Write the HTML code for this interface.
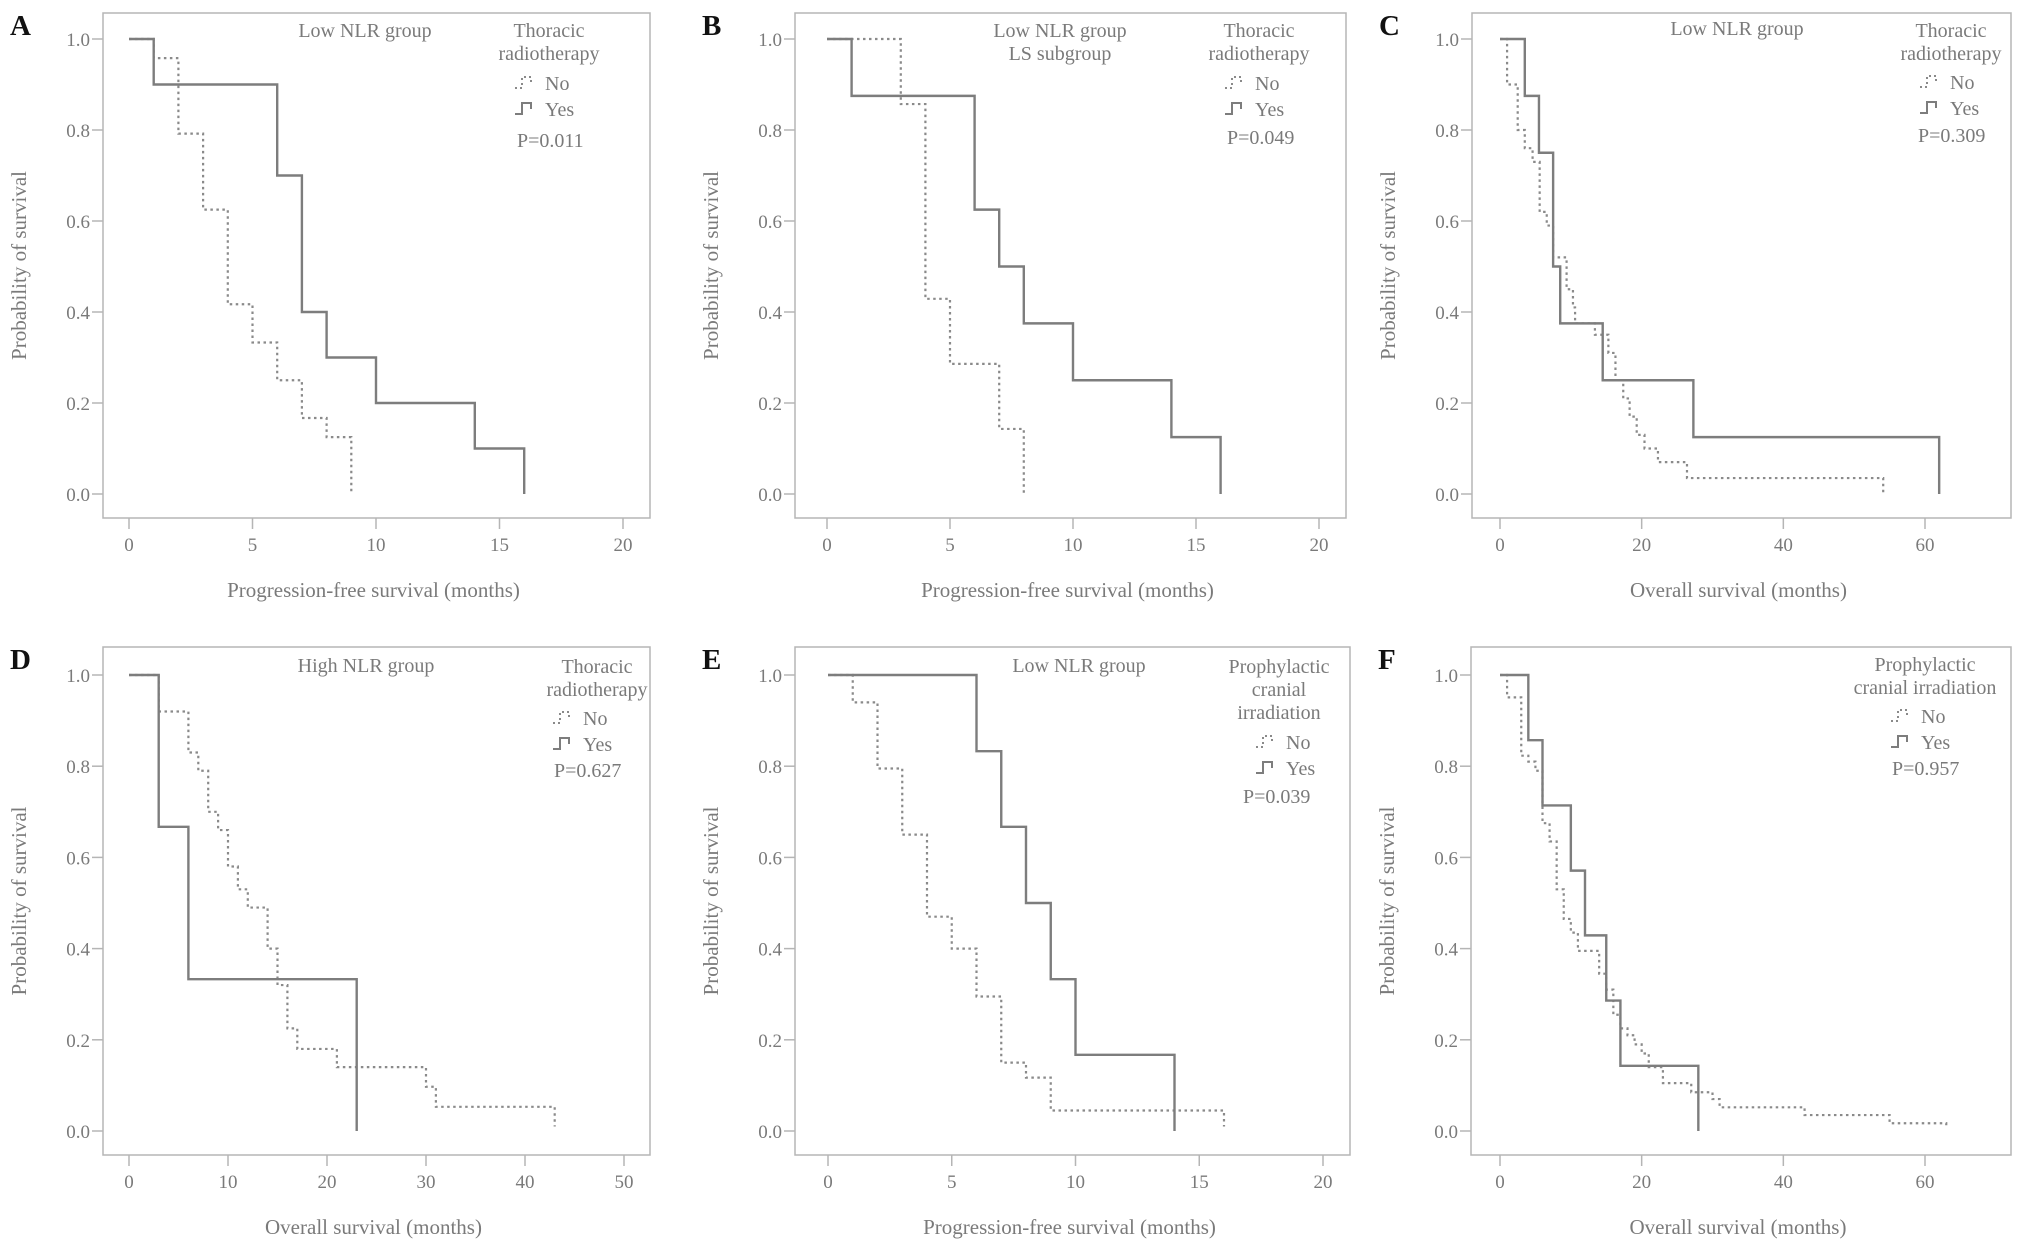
<!DOCTYPE html>
<html><head><meta charset="utf-8"><style>
html,body{margin:0;padding:0;background:#fff;}
svg{display:block;font-family:"Liberation Serif","DejaVu Serif",serif;}
svg text{font-family:"Liberation Serif","DejaVu Serif",serif;}
</style></head><body>
<svg id="fig" width="2031" height="1250" viewBox="0 0 2031 1250" font-family="Liberation Serif, DejaVu Serif, serif"></svg>
<script>
// ---- data ----
const aTicksX = [0,5,10,15,20];
const aYesT = [0,1,6,7,8,10,14,16];
const aYesS = [1,0.9,0.7,0.4,0.3,0.2,0.1,0];
const aNoT = [0,1,2,3,4,5,6,7,8,9];
const aNoS = [1,0.958,0.792,0.625,0.417,0.333,0.25,0.167,0.125,0];

const bTicksX = [0,5,10,15,20];
const bYesT = [0,1,6,7,8,10,14,16];
const bYesS = [1,0.875,0.625,0.5,0.375,0.25,0.125,0];
const bNoT = [0,3,4,5,7,8];
const bNoS = [1,0.857,0.429,0.286,0.143,0];

const cTicksX = [0,20,40,60];
const cYesT = [0,3.5,5.5,7.5,8.5,14.5,27.3,62];
const cYesS = [1,0.875,0.75,0.5,0.375,0.25,0.125,0];
const cNoT = [0,1,2.5,3.5,4.6,5.6,6.6,7.5,9.4,10.3,10.6,13.4,15.3,16.3,17.4,18.3,19.3,20.4,22.3,26.4,54.1];
const cNoS = [1,0.9,0.8,0.76,0.73,0.62,0.59,0.52,0.45,0.41,0.375,0.35,0.31,0.25,0.21,0.17,0.13,0.10,0.07,0.035,0.0];

const dTicksX = [0,10,20,30,40,50];
const dYesT = [0,3,6,23];
const dYesS = [1,0.667,0.333,0];
const dNoT = [0,3,6,7,8,9,10,11,12,14,15,16,17,21,30,31,43];
const dNoS = [1,0.92,0.83,0.79,0.70,0.66,0.58,0.53,0.49,0.40,0.32,0.225,0.18,0.14,0.097,0.053,0.01];

const eTicksX = [0,5,10,15,20];
const eYesT = [0,6,7,8,9,10,14];
const eYesS = [1,0.833,0.667,0.5,0.333,0.167,0];
const eNoT = [0,1,2,3,4,5,6,7,8,9,16];
const eNoS = [1,0.94,0.795,0.65,0.47,0.40,0.295,0.15,0.117,0.045,0.01];

const fTicksX = [0,20,40,60];
const fYesT = [0,4,6,10,12,15,17,28];
const fYesS = [1,0.857,0.714,0.571,0.429,0.286,0.143,0];
const fNoT = [0,1,3,4,5,6,7,8,9,10,11,14,15,16,17,18,19,20,21,23,27,30,31,43,55,63];
const fNoS = [1,0.951,0.823,0.81,0.79,0.675,0.635,0.53,0.465,0.435,0.395,0.345,0.31,0.255,0.225,0.21,0.19,0.17,0.14,0.105,0.085,0.07,0.052,0.035,0.017,0.01];

const yTickVals = [0,0.2,0.4,0.6,0.8,1.0];

const NS = "http://www.w3.org/2000/svg";
const svg = document.getElementById('fig');
const TXT = "#7a7a7a", LINE = "#7d7d7d", FR = "#b5b5b5";
const FONT = '"Liberation Serif","DejaVu Serif",serif';

function mk(tag, attrs, parent){
  const e = document.createElementNS(NS, tag);
  for (const k in attrs) e.setAttribute(k, attrs[k]);
  (parent||svg).appendChild(e);
  return e;
}
function txt(x,y,s,size,anchor,parent,color,weight){
  const t = mk('text',{x:x,y:y,'font-size':size,'text-anchor':anchor||'middle',fill:color||TXT,'font-weight':weight||'normal'},parent);
  t.style.fontFamily = FONT;
  t.textContent = s;
  return t;
}

function panel(cfg){
  const g = mk('g',{});
  
  
  const xScale = v => cfg.x0 + (v - cfg.xmin) * (cfg.x1 - cfg.x0) / (cfg.xmax - cfg.xmin);
  const yScale = v => cfg.y0 + (1 - v) * (cfg.y1 - cfg.y0);
  const fr = mk('rect',{x:cfg.fl,y:cfg.ft,width:cfg.fr-cfg.fl,height:cfg.fb-cfg.ft,fill:'none',stroke:FR,'stroke-width':1.5},g);
  
  
  const L = txt(cfg.fl-93, cfg.ft+22, cfg.letter, 29, 'start', g, '#111', 'bold');
  
  
  yTickVals.forEach(v=>{
    const y = yScale(v);
    mk('line',{x1:cfg.fl-11,x2:cfg.fl,y1:y,y2:y,stroke:FR,'stroke-width':1.5},g);
    const t = txt(cfg.fl-13, y+7, v.toFixed(1), 19, 'end', g);
    
    
  });
  cfg.ticks.forEach(v=>{
    const x = xScale(v);
    mk('line',{x1:x,x2:x,y1:cfg.fb,y2:cfg.fb+11,stroke:FR,'stroke-width':1.5},g);
    const t = txt(x, cfg.fb+33, String(v), 19, 'middle', g);
    
    
  });
  const yt = txt(0,0,'Probability of survival',21,'middle',g);
  yt.setAttribute('transform','translate('+(cfg.fl-77)+','+((cfg.ft+cfg.fb)/2)+') rotate(-90)');
  
  
  const xt = txt((cfg.fl+cfg.fr)/2 - 3, cfg.fb+79, cfg.xtitle, 21, 'middle', g);
  
  
  function step(T,S,dashed,name){
    let d = 'M'+xScale(T[0])+','+yScale(S[0]);
    for (let i=1;i<T.length;i++){ d += ' H'+xScale(T[i])+' V'+yScale(S[i]); }
    const p = mk('path',{d:d,fill:'none',stroke:dashed?'#8a8a8a':LINE,'stroke-width':dashed?2.2:2.4,'stroke-dasharray':dashed?'2.5 3.5':'none'},g);
    
    
  }
  step(cfg.noT,cfg.noS,true,'series-no');
  step(cfg.yesT,cfg.yesS,false,'series-yes');
  cfg.group.forEach((s,i)=>{
    const t = txt(cfg.gx, cfg.gy + i*23, s, 20, 'middle', g);
    
    
  });
  cfg.ltitle.forEach((s,i)=>{
    const t = txt(cfg.lx, cfg.ly + i*23, s, 20, 'middle', g);
    
    
  });
  const ex = cfg.ex, ey = cfg.ey;
  const i1 = mk('path',{d:'M'+(ex-30)+','+(ey-2)+' h7 v-11 h9 v6',fill:'none',stroke:'#8a8a8a','stroke-width':2,'stroke-dasharray':'2 3'},g);
  
  
  const n = txt(ex, ey, 'No', 20, 'start', g);
  
  
  const i2 = mk('path',{d:'M'+(ex-30)+','+(ey+24)+' h7 v-11 h9 v6',fill:'none',stroke:LINE,'stroke-width':2},g);
  
  
  const y = txt(ex, ey+26, 'Yes', 20, 'start', g);
  
  
  const p = txt(cfg.px, cfg.py, cfg.pval, 20, 'start', g);
  
  
}

const R1 = {ft:13, fb:518, y0:39, y1:494};
const R2 = {ft:647, fb:1155, y0:675, y1:1131};
const PFS = 'Progression-free survival (months)', OS = 'Overall survival (months)';

panel(Object.assign({id:'a',letter:'A',fl:103,fr:650,x0:129,x1:623,xmin:0,xmax:20,ticks:aTicksX,xtitle:PFS,
  yesT:aYesT,yesS:aYesS,noT:aNoT,noS:aNoS,group:['Low NLR group'],gx:365,gy:37,
  ltitle:['Thoracic','radiotherapy'],lx:549,ly:37,ex:545,ey:90,px:517,py:147,pval:'P=0.011'},R1));
panel(Object.assign({id:'b',letter:'B',fl:795,fr:1346,x0:827,x1:1319,xmin:0,xmax:20,ticks:bTicksX,xtitle:PFS,
  yesT:bYesT,yesS:bYesS,noT:bNoT,noS:bNoS,group:['Low NLR group','LS subgroup'],gx:1060,gy:37,
  ltitle:['Thoracic','radiotherapy'],lx:1259,ly:37,ex:1255,ey:90,px:1227,py:144,pval:'P=0.049'},R1));
panel(Object.assign({id:'c',letter:'C',fl:1472,fr:2011,x0:1500,x1:1925,xmin:0,xmax:60,ticks:cTicksX,xtitle:OS,
  yesT:cYesT,yesS:cYesS,noT:cNoT,noS:cNoS,group:['Low NLR group'],gx:1737,gy:35,
  ltitle:['Thoracic','radiotherapy'],lx:1951,ly:37,ex:1950,ey:89,px:1918,py:142,pval:'P=0.309'},R1));
panel(Object.assign({id:'d',letter:'D',fl:103,fr:650,x0:129,x1:624,xmin:0,xmax:50,ticks:dTicksX,xtitle:OS,
  yesT:dYesT,yesS:dYesS,noT:dNoT,noS:dNoS,group:['High NLR group'],gx:366,gy:672,
  ltitle:['Thoracic','radiotherapy'],lx:597,ly:673,ex:583,ey:725,px:554,py:777,pval:'P=0.627'},R2));
panel(Object.assign({id:'e',letter:'E',fl:795,fr:1350,x0:828,x1:1323,xmin:0,xmax:20,ticks:eTicksX,xtitle:PFS,
  yesT:eYesT,yesS:eYesS,noT:eNoT,noS:eNoS,group:['Low NLR group'],gx:1079,gy:672,
  ltitle:['Prophylactic','cranial','irradiation'],lx:1279,ly:673,ex:1286,ey:749,px:1243,py:803,pval:'P=0.039'},R2));
panel(Object.assign({id:'f',letter:'F',fl:1471,fr:2011,x0:1500,x1:1925,xmin:0,xmax:60,ticks:fTicksX,xtitle:OS,
  yesT:fYesT,yesS:fYesS,noT:fNoT,noS:fNoS,group:[],gx:0,gy:0,
  ltitle:['Prophylactic','cranial irradiation'],lx:1925,ly:671,ex:1921,ey:723,px:1892,py:775,pval:'P=0.957'},R2));
</script>
</body></html>
